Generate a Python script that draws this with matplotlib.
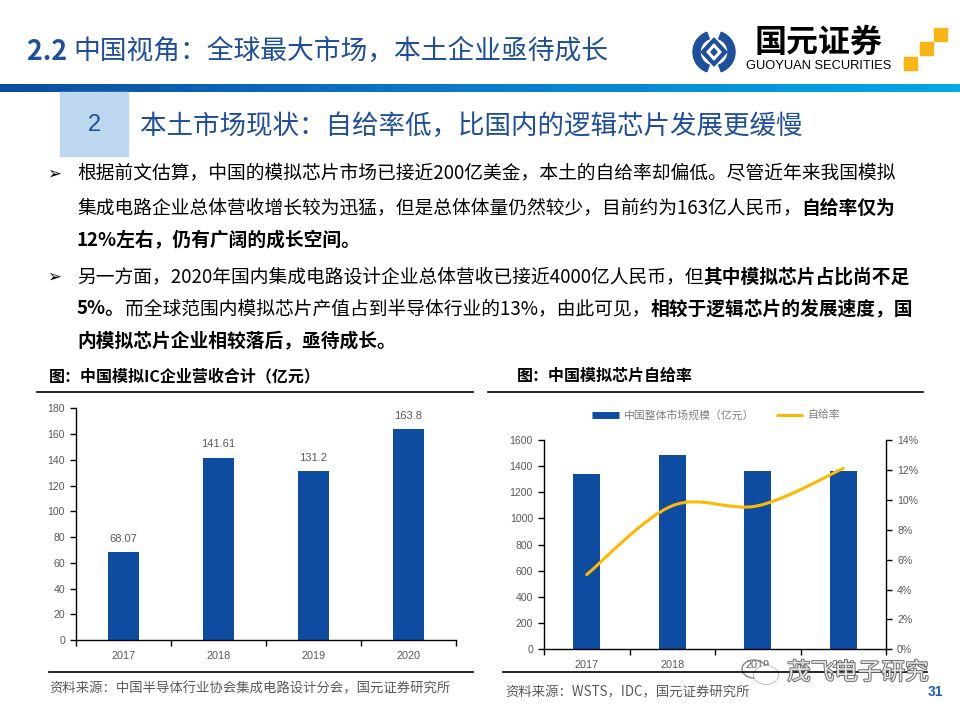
import numpy as np
import matplotlib
matplotlib.use("Agg")
import matplotlib.pyplot as plt
import matplotlib.patheffects as pe
from matplotlib.path import Path
from matplotlib.patches import PathPatch, Rectangle, Wedge, Polygon, Ellipse
from matplotlib.lines import Line2D
from matplotlib.colors import LinearSegmentedColormap
from matplotlib.ticker import FuncFormatter, FixedLocator

CJK = ['Noto Sans CJK SC', 'DejaVu Sans']
NUM = ['Liberation Sans', 'DejaVu Sans']
plt.rcParams['font.family'] = CJK

# data
years = ['2017', '2018', '2019', '2020']
ic_revenue = [68.07, 141.61, 131.2, 163.8]          # 中国模拟IC企业营收合计（亿元）
market_size = [1340, 1485, 1363, 1363]              # 中国整体市场规模（亿元）
self_rate = [0.050, 0.096, 0.096, 0.121]            # 自给率

BLUE = '#1F4E9D'
BAR = '#0D4CA1'
GOLD = '#FFB800'
GRAY = '#595959'

W, H = 960, 720
fig = plt.figure(figsize=(9.6, 7.2), dpi=100)
renderer = fig.canvas.get_renderer()


def fx(x):
    return x / W


def fy(y):
    return 1 - y / H


def rect(x0, y0, x1, y1):
    # pixel box (top-left origin) -> figure rect
    return [fx(x0), fy(y1), (x1 - x0) / W, (y1 - y0) / H]


def runs(x, y, parts, size, color='black'):
    # draw text pieces one after another, bold or not
    for txt, bold in parts:
        t = fig.text(fx(x), fy(y), txt, fontsize=size, color=color,
                     fontweight='bold' if bold else 'normal',
                     ha='left', va='center', family=CJK)
        x += t.get_window_extent(renderer).width
    return x


def hline(x0, x1, y, lw=1.2):
    fig.add_artist(Line2D([fx(x0), fx(x1)], [fy(y), fy(y)], color='black', lw=lw))


# ---- header ----
x = runs(27, 52, [('2.2 ', True)], 19.3, BLUE)
runs(x, 51, [('中国视角：全球最大市场，本土企业亟待成长', False)], 19.3, BLUE)

# logo
ax_logo = fig.add_axes(rect(690, 28, 738, 76))
ax_logo.set_xlim(-24, 24)
ax_logo.set_ylim(-24, 24)
ax_logo.set_aspect('equal')
ax_logo.axis('off')
ax_logo.add_patch(Wedge((0, 0), 21, 110, 250, width=7, color=BLUE))
ax_logo.add_patch(Wedge((0, 0), 21, 290, 70, width=7, color=BLUE))
ax_logo.add_patch(Polygon([[0, 14], [13, 0], [0, -14], [-13, 0]], color=BLUE))
ax_logo.add_patch(Polygon([[0, 8], [7, 0], [0, -8], [-7, 0]], color='white'))
ax_logo.add_patch(Polygon([[0, 3.5], [3, 0], [0, -3.5], [-3, 0]], color=BLUE))

fig.text(fx(819), fy(43), '国元证券', fontsize=23, fontweight='bold',
         ha='center', va='center', color='black')
fig.text(fx(819), fy(66), 'GUOYUAN SECURITIES', fontsize=9.3, family=NUM,
         ha='center', va='center', color='black')
for sx, sy in [(904, 57), (920, 42), (934, 28)]:
    fig.add_artist(Rectangle((fx(sx), fy(sy + 13)), 13 / W, 13 / H,
                             transform=fig.transFigure, color='#F7B614'))

# gradient band
ax_band = fig.add_axes(rect(0, 84, 960, 92.5))
cmap = LinearSegmentedColormap.from_list('band', ['#0B4EA2', '#0A7CCB', '#03A9E8'])
ax_band.imshow(np.linspace(0, 1, 256)[None, :], aspect='auto', cmap=cmap)
ax_band.axis('off')

# section box
fig.add_artist(Rectangle((fx(60), fy(156)), 68 / W, 64 / H,
                         transform=fig.transFigure, color='#BDD7EE'))
fig.text(fx(94), fy(125), '2', fontsize=17, color=BLUE, ha='center', va='center', family=NUM)
runs(140, 126, [('本土市场现状：自给率低，比国内的逻辑芯片发展更缓慢', False)], 19.1, BLUE)

# ---- body text ----
BODY = 13.5
for by in (174, 277):
    fig.text(fx(47), fy(by), '➢', fontsize=12, family=['DejaVu Sans'],
             ha='left', va='center', color='black')
body_lines = [
    (174, [('根据前文估算，中国的模拟芯片市场已接近200亿美金，本土的自给率却偏低。尽管近年来我国模拟', False)]),
    (208, [('集成电路企业总体营收增长较为迅猛，但是总体体量仍然较少，目前约为163亿人民币，', False),
           ('自给率仅为', True)]),
    (241, [('12%左右，仍有广阔的成长空间。', True)]),
    (277, [('另一方面，2020年国内集成电路设计企业总体营收已接近4000亿人民币，但', False),
           ('其中模拟芯片占比尚不足', True)]),
    (309, [('5%。', True), ('而全球范围内模拟芯片产值占到半导体行业的13%，由此可见，', False),
           ('相较于逻辑芯片的发展速度，国', True)]),
    (342, [('内模拟芯片企业相较落后，亟待成长。', True)]),
]
for by, parts in body_lines:
    runs(77, by, parts, BODY)

# ---- left chart ----
fig.text(fx(49), fy(376), '图：中国模拟IC企业营收合计（亿元）', fontsize=11.5,
         fontweight='bold', ha='left', va='center')
hline(37, 473, 392)
hline(49, 473, 672)
fig.text(fx(49), fy(688), '资料来源：中国半导体行业协会集成电路设计分会，国元证券研究所',
         fontsize=9.6, color=GRAY, ha='left', va='center')

axL = fig.add_axes(rect(76, 408.3, 456, 640))
xpos = np.arange(len(years))
barsL = axL.bar(xpos, ic_revenue, width=0.33, color=BAR)
axL.bar_label(barsL, labels=[f'{v:g}' for v in ic_revenue], padding=6,
              fontsize=8, color=GRAY, family=NUM)
axL.set_xlim(-0.5, 3.5)
axL.set_ylim(0, 180)
axL.set_yticks(np.arange(0, 181, 20))

# ---- right chart ----
fig.text(fx(517), fy(376), '图：中国模拟芯片自给率', fontsize=11.5,
         fontweight='bold', ha='left', va='center')
hline(488, 923, 392)
hline(503, 927, 672)
fig.text(fx(505), fy(692), '资料来源：WSTS，IDC，国元证券研究所',
         fontsize=9.6, color=GRAY, ha='left', va='center')

axR = fig.add_axes(rect(544, 440, 886, 649.3))
axR.bar(xpos, market_size, width=0.32, color=BAR)
axR.set_xlim(-0.5, 3.5)
axR.set_ylim(0, 1600)
axR.set_yticks(np.arange(0, 1601, 200))

axR2 = axR.twinx()
axR2.set_ylim(0, 0.14)
axR2.set_yticks(np.arange(0, 0.141, 0.02))
axR2.yaxis.set_major_formatter(FuncFormatter(lambda v, _: f'{v * 100:.0f}%'))

# smoothed line (catmull-rom as cubic bezier)
pts = np.column_stack([xpos, self_rate])
verts, codes = [pts[0]], [Path.MOVETO]
n = len(pts)
for i in range(n - 1):
    p0 = pts[i - 1] if i > 0 else pts[i]
    p3 = pts[i + 2] if i + 2 < n else pts[i + 1]
    verts += [pts[i] + (pts[i + 1] - p0) / 6, pts[i + 1] - (p3 - pts[i]) / 6, pts[i + 1]]
    codes += [Path.CURVE4] * 3
axR2.add_patch(PathPatch(Path(verts, codes), fill=False, edgecolor=GOLD, lw=2.2,
                         capstyle='round'))

handles = [Line2D([], [], color=BAR, lw=5, solid_capstyle='butt'),
           Line2D([], [], color=GOLD, lw=2.2, solid_capstyle='butt')]
axR.legend(handles, ['中国整体市场规模（亿元）', '自给率'], ncol=2, frameon=False,
           loc='center', bbox_to_anchor=(fx(716), fy(415)), bbox_transform=fig.transFigure,
           fontsize=7.8, labelcolor='#7F7F7F', handlelength=2.5, handletextpad=0.45,
           columnspacing=2.0)

# shared axis styling
for ax in (axL, axR, axR2):
    ax.spines['top'].set_visible(False)
    for s in ax.spines.values():
        s.set_linewidth(1.0)
        s.set_color('black')
    ax.tick_params(axis='y', direction='out', length=4, width=1, colors='black',
                   labelcolor=GRAY, labelsize=7.6, pad=4)
    for lab in ax.get_yticklabels():
        lab.set_family(NUM)
axL.spines['right'].set_visible(False)
axR.spines['right'].set_visible(False)
axR2.spines['left'].set_visible(False)
axR2.spines['bottom'].set_visible(False)

for ax in (axL, axR):
    ax.xaxis.set_major_locator(FixedLocator(xpos))
    ax.set_xticklabels(years, family=NUM, fontsize=7.8, color=GRAY)
    ax.tick_params(axis='x', which='major', length=0, pad=8)
    ax.xaxis.set_minor_locator(FixedLocator(np.arange(-0.5, 3.6, 1.0)))
    ax.tick_params(axis='x', which='minor', direction='out', length=4, width=1, colors='black')

# ---- watermark + page number ----
ax_wm = fig.add_axes(rect(740, 655, 790, 690))
ax_wm.set_xlim(0, 50)
ax_wm.set_ylim(35, 0)
ax_wm.set_aspect('equal')
ax_wm.axis('off')
ax_wm.add_patch(Ellipse((14, 14), 24, 18, fill=False, ec='#888888', lw=1))
ax_wm.add_patch(Ellipse((26, 20), 24, 18, fill=False, ec='#888888', lw=1, fc='white'))
ax_wm.add_patch(Ellipse((26, 20), 23, 17, color='white'))
fig.text(fx(787), fy(673), '茂飞电子研究', fontsize=17, color='#E6E6E6',
         ha='left', va='center',
         path_effects=[pe.withStroke(linewidth=1.3, foreground='#666666')])
fig.text(fx(928), fy(692), '31', fontsize=10, fontweight='bold', color='#1F5FB0',
         ha='left', va='center', family=NUM)

fig.savefig('out.png', dpi=100)
